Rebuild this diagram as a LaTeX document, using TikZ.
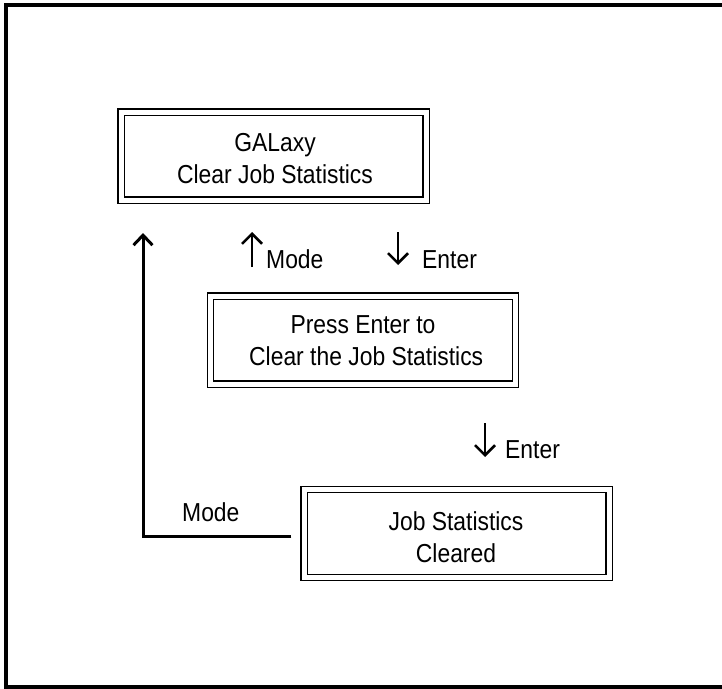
\documentclass[tikz,border=0pt]{standalone}
\usepackage{fontspec}
\setmainfont{Liberation Sans}[FakeStretch=0.88]
\usetikzlibrary{arrows.meta,positioning}

\begin{document}
\begin{tikzpicture}[
    x=1pt, y=-1pt,
    font=\fontsize{26}{32}\selectfont,
    screen/.style={rectangle, draw, double, double distance=5pt, line width=1.2pt, minimum width=305pt, minimum height=88pt, align=center, inner sep=0pt},
    key/.style={-{Straight Barb[length=10pt, width=20pt]}, line width=2.5pt},
    back/.style={-{Straight Barb[length=10pt, width=19pt]}, line width=3pt},
    label/.style={anchor=base west, inner sep=0pt}
]
\useasboundingbox (0,0) rectangle (722,688);

% Frame (right side runs off the page)
\draw[line width=4pt] (740,5) -- (6,5) -- (6,686.5) -- (740,686.5);

% Screens
\node[screen] (galaxy) at (273.5,156) {};
\node (galaxytext) at (275,159) [align=center] {GALaxy\\Clear Job Statistics};
\node[screen] (press) at (363,340) {};
\node (presstext) at (363,341) [align=center] {Press Enter to\\\ Clear the Job Statistics};
\node[screen] (cleared) at (456.5,533.5) {};
\node (clearedtext) at (456,537.5) [align=center] {Job Statistics\\Cleared};

% Keys between screens
\coordinate (modetop) at (252,232);
\coordinate (modebot) at (252,267);
\draw[key] (modebot) -- (modetop);
\node[label] (mode1) at (266,268) {Mode};

\coordinate (enter1top) at (398,232);
\coordinate (enter1bot) at (398,265);
\draw[key] (enter1top) -- (enter1bot);
\node[label] (enter1) at (422,268) {Enter};

\coordinate (enter2top) at (485,423);
\coordinate (enter2bot) at (485,457);
\draw[key] (enter2top) -- (enter2bot);
\node[label] (enter2) at (505,458) {Enter};

% Back to the first screen
\coordinate (backend) at (143,233);
\draw[back] ([xshift=-12pt,yshift=-2.5pt]cleared.west) -| (backend);
\node[label] (mode2) at (182,521) {Mode};

\end{tikzpicture}
\end{document}
